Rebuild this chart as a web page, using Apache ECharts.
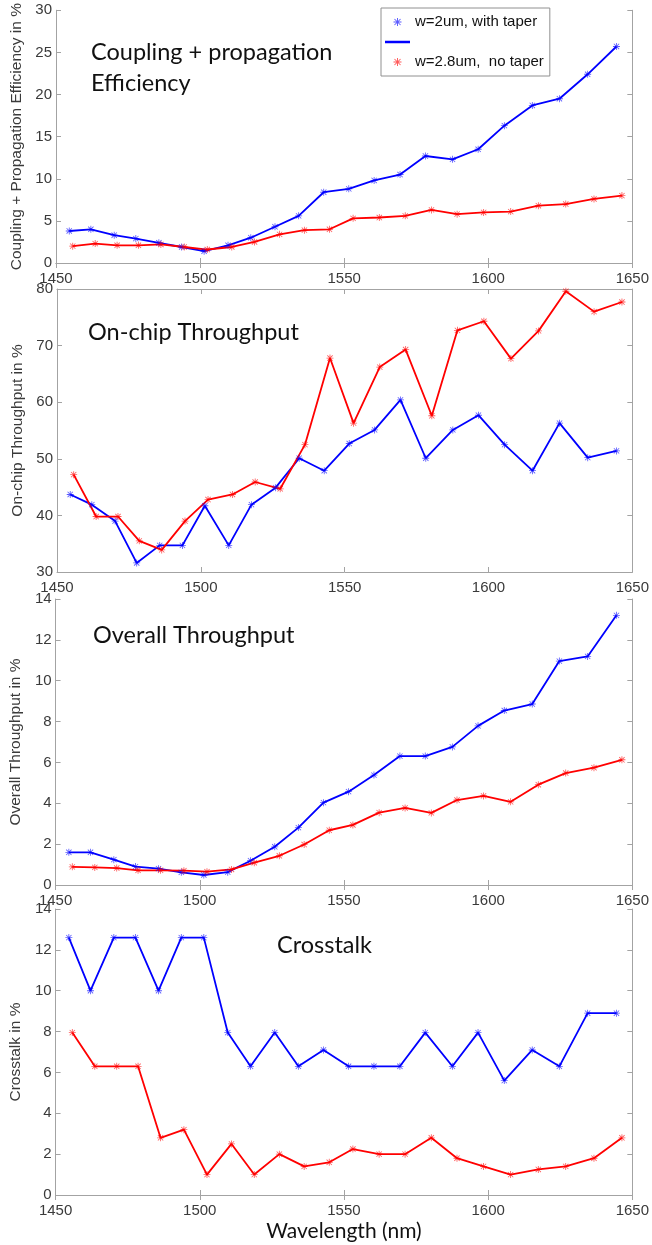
<!DOCTYPE html>
<html>
<head>
<meta charset="utf-8">
<script src="https://cdn.jsdelivr.net/npm/echarts@6/dist/echarts.min.js"></script>
<style>
html,body{margin:0;padding:0;background:#fff;}
#chart{width:652px;height:1245px;}
</style>
</head>
<body>
<div id="chart"></div>
<script>
// Wavelength sampling (nm)
const blueWl = [1454.6,1462.1,1470.2,1477.7,1485.7,1493.6,1501.4,1509.7,1517.6,1526.0,1534.2,1542.9,1551.6,1560.4,1569.4,1578.2,1587.6,1596.5,1605.6,1615.3,1624.7,1634.5,1644.5];
const redWl  = [1455.8,1463.6,1471.2,1478.6,1486.4,1494.5,1502.5,1511.0,1518.9,1527.6,1536.2,1544.9,1553.1,1562.2,1571.2,1580.3,1589.2,1598.4,1607.8,1617.4,1626.9,1636.7,1646.4];

// Coupling + propagation efficiency (%)
const couplingBlue = [3.8,4.0,3.3,2.9,2.4,1.9,1.4,2.1,3.0,4.3,5.6,8.4,8.8,9.8,10.5,12.7,12.3,13.5,16.3,18.7,19.5,22.4,25.7];
const couplingRed  = [2.0,2.3,2.1,2.1,2.2,1.9,1.6,1.9,2.5,3.4,3.9,4.0,5.3,5.4,5.6,6.3,5.8,6.0,6.1,6.8,7.0,7.6,8.0];

// On-chip throughput (%)
const onchipBlue = [43.7,41.9,39.0,31.6,34.7,34.7,41.7,34.7,41.9,44.9,50.1,47.9,52.7,55.1,60.4,50.1,55.1,57.7,52.5,47.9,56.3,50.2,51.4];
const onchipRed  = [47.2,39.8,39.8,35.5,33.9,39.0,42.8,43.7,45.9,44.7,52.5,67.8,56.3,66.2,69.3,57.6,72.7,74.3,67.7,72.6,79.6,76.0,77.7];

// Overall throughput (%)
const overallBlue = [1.6,1.6,1.24,0.9,0.8,0.62,0.49,0.63,1.19,1.87,2.81,4.03,4.57,5.38,6.31,6.31,6.76,7.79,8.54,8.86,10.96,11.19,13.2];
const overallRed  = [0.89,0.86,0.83,0.72,0.72,0.70,0.65,0.76,1.09,1.43,1.98,2.68,2.94,3.54,3.77,3.53,4.16,4.36,4.07,4.91,5.48,5.74,6.13];

// Crosstalk (%)
const crosstalkBlue = [12.6,10.0,12.6,12.6,10.0,12.6,12.6,7.95,6.3,7.95,6.3,7.1,6.3,6.3,6.3,7.95,6.3,7.95,5.6,7.1,6.3,8.9,8.9];
const crosstalkRed  = [7.95,6.3,6.3,6.3,2.8,3.2,1.0,2.5,1.0,2.0,1.4,1.6,2.25,2.0,2.0,2.8,1.8,1.4,1.0,1.25,1.4,1.8,2.8];

const xTicks = {min:1450, max:1650, interval:50};
const panelsY = [
  {min:0, max:30, interval:5, name:'Coupling + Propagation Efficiency in %'},
  {min:30, max:80, interval:10, name:'On-chip Throughput in %'},
  {min:0, max:14, interval:2, name:'Overall Throughput in %'},
  {min:0, max:14, interval:2, name:'Crosstalk in %'}
];
const panelTitles = ['Coupling + propagation\nEfficiency','On-chip Throughput','Overall Throughput','Crosstalk'];
const blueName = 'w=2um, with taper';
const redName = 'w=2.8um,  no taper';

const grids = [
  {left:56, top:7, width:577, height:256},
  {left:57, top:289, width:577, height:283},
  {left:53, top:599, width:583, height:286},
  {left:50, top:909, width:586, height:286}
];
const nameGaps = [27, 23, 28, 31];
const titlePos = [
  {left:91, top:37},
  {left:88, top:317},
  {left:93, top:620},
  {left:277, top:930}
];

const AST = 'path://M4.4 0 L5.6 0 L5.6 10 L4.4 10 Z M0 4.4 L10 4.4 L10 5.6 L0 5.6 Z M0.8 1.6 L1.6 0.8 L9.2 8.4 L8.4 9.2 Z M8.4 0.8 L9.2 1.6 L1.6 9.2 L0.8 8.4 Z';
const BLUE = '#0000ff', RED = '#ff0000';
const axisColor = '#a3a3a3';
const labelColor = '#3a3a3a';
const tickFont = 'Liberation Sans';

function pairs(xs, ys){ return ys.map((y,i)=>[xs[i], y]); }
const seriesData = [
  [couplingBlue, couplingRed],
  [onchipBlue, onchipRed],
  [overallBlue, overallRed],
  [crosstalkBlue, crosstalkRed]
];

const xAxes = [], yAxes = [], series = [], titles = [];
grids.forEach((g, i) => {
  const common = {
    type:'value', gridIndex:i, min:xTicks.min, max:xTicks.max, interval:xTicks.interval,
    axisLine:{show:true, lineStyle:{color:axisColor, width:1}},
    axisTick:{show:true, inside:true, length:5, lineStyle:{color:axisColor}},
    splitLine:{show:false}
  };
  xAxes.push(Object.assign({}, common, {
    position:'bottom',
    axisLabel:{show:true, margin:8, fontSize:15, color:labelColor, fontFamily:tickFont,
      formatter:(v)=>String(v)},
    name: i === 3 ? 'Wavelength (nm)' : '',
    nameLocation:'middle', nameGap:26,
    nameTextStyle:{fontFamily:'Lato', fontSize:21, color:'#111'}
  }));
  xAxes.push(Object.assign({}, common, {position:'top', axisLabel:{show:false}}));
  const py = panelsY[i];
  const ycommon = {
    type:'value', gridIndex:i, min:py.min, max:py.max, interval:py.interval,
    axisLine:{show:true, lineStyle:{color:axisColor, width:1}},
    axisTick:{show:true, inside:true, length:5, lineStyle:{color:axisColor}},
    splitLine:{show:false}
  };
  yAxes.push(Object.assign({}, ycommon, {
    position:'left',
    axisLabel:{show:true, margin:4, fontSize:15, color:labelColor, fontFamily:tickFont},
    name:py.name, nameLocation:'middle', nameGap:nameGaps[i],
    nameTextStyle:{fontFamily:tickFont, fontSize:15.5, color:labelColor}
  }));
  yAxes.push(Object.assign({}, ycommon, {position:'right', axisLabel:{show:false}}));

  const [b, r] = seriesData[i];
  series.push({
    name:blueName, type:'line', xAxisIndex:2*i, yAxisIndex:2*i,
    data:pairs(blueWl, b), symbol:AST, symbolSize:7,
    lineStyle:{color:BLUE, width:1.8}, itemStyle:{color:BLUE, opacity:0.65},
    emphasis:{disabled:true}, animation:false
  });
  series.push({
    name:redName, type:'line', xAxisIndex:2*i, yAxisIndex:2*i,
    data:pairs(redWl, r), symbol:AST, symbolSize:7,
    lineStyle:{color:RED, width:1.8}, itemStyle:{color:RED, opacity:0.65},
    emphasis:{disabled:true}, animation:false
  });

  titles.push({
    text:panelTitles[i], left:titlePos[i].left, top:titlePos[i].top, padding:0,
    textStyle:{fontFamily:'Lato', fontSize:23.5, fontWeight:'normal', color:'#111', lineHeight:31}
  });
});

// dummy series for the blank line entry in the legend
series.push({name:'\u00a0', type:'line', xAxisIndex:0, yAxisIndex:0, data:[],
  lineStyle:{color:BLUE, width:2}, itemStyle:{color:BLUE}});

const chart = echarts.init(document.getElementById('chart'), null, {renderer:'canvas'});
chart.setOption({
  backgroundColor:'#fff',
  animation:false,
  title:titles,
  grid:grids,
  xAxis:xAxes,
  yAxis:yAxes,
  legend:{
    orient:'vertical', left:381, top:8,
    backgroundColor:'#fff', borderColor:'#909090', borderWidth:1, borderRadius:0,
    padding:[6,6,6,4], itemGap:4, itemWidth:25, itemHeight:8,
    textStyle:{fontFamily:tickFont, fontSize:15, color:'#111', lineHeight:16},
    selectedMode:false,
    data:[
      {name:blueName, icon:AST},
      {name:'\u00a0', icon:'path://M0 0 L10 0 L10 1 L0 1 Z'},
      {name:redName, icon:AST}
    ]
  },
  series:series
});
</script>
</body>
</html>
